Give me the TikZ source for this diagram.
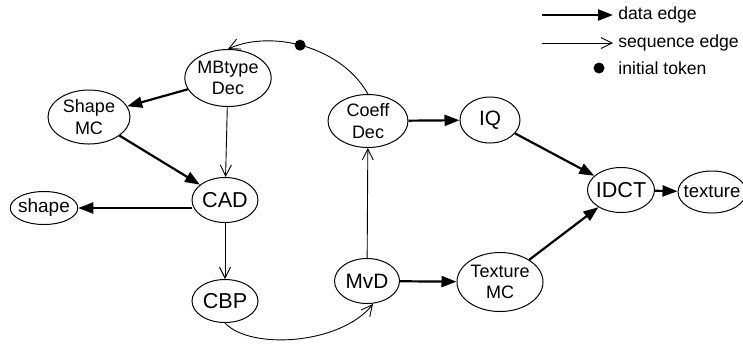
\documentclass[tikz,border=0pt]{standalone}
\usepackage{fontspec}
\setmainfont{Liberation Sans}
\usetikzlibrary{arrows.meta, positioning, shapes.geometric}

\begin{document}
\begin{tikzpicture}[x=0.5pt, y=-0.5pt,
        actor/.style={draw, ellipse, line width=0.5pt, inner sep=0pt, align=center, font=\fontsize{9}{10.8}\selectfont},
        bigactor/.style={actor, inner xsep=-1.5pt, font=\fontsize{10.8}{12}\selectfont},
        dataedge/.style={-{Triangle[length=7.5pt,width=5.5pt]}, line width=1.1pt},
        seqedge/.style={-{Straight Barb[length=5.5pt,width=5.5pt]}, line width=0.45pt},
        legendtext/.style={anchor=west, inner sep=2.5pt, font=\fontsize{8.8}{10}\selectfont},
        token/.style={circle, fill, inner sep=0pt, minimum size=5.5pt}]
        \useasboundingbox (0,0) rectangle (743,345);

        % Actors of the decoder
        \node[actor, minimum width=43pt, minimum height=28.5pt] (mbdec) at (228,78) {MBtype\\Dec};
        \node[actor, minimum width=41pt, minimum height=27pt] (shapemc) at (89,117) {Shape\\MC};
        \node[actor, minimum width=40pt, minimum height=26.5pt] (coeffdec) at (368,121) {Coeff\\Dec};
        \node[bigactor, font=\fontsize{10.4}{12}\selectfont, minimum width=30pt, minimum height=23pt] (iq) at (490,120) {IQ};
        \node[bigactor, minimum width=33pt, minimum height=22.5pt] (cad) at (225,200) {CAD};
        \node[actor, inner xsep=-1pt, font=\fontsize{9.5}{10}\selectfont, minimum width=32.5pt, minimum height=16.5pt] (shapeout) at (44,208) {shape};
        \node[bigactor, minimum width=33pt, minimum height=21.5pt] (cbp) at (225,301) {CBP};
        \node[bigactor, font=\fontsize{10.4}{12}\selectfont, minimum width=32.5pt, minimum height=22.5pt] (mvd) at (367,281) {MvD};
        \node[actor, minimum width=43pt, minimum height=29.5pt] (texmc) at (500,282) {Texture\\MC};
        \node[bigactor, minimum width=33.5pt, minimum height=22.5pt] (idct) at (621,190) {IDCT};
        \node[actor, inner xsep=-3pt, font=\fontsize{9.3}{10}\selectfont, minimum width=34pt, minimum height=21pt] (texout) at (712,192) {texture};

        % Data edges
        \draw[dataedge] (mbdec) -- (shapemc);
        \draw[dataedge] (shapemc) -- (cad);
        \draw[dataedge] (cad.west |- shapeout) -- (shapeout);
        \draw[dataedge] (coeffdec) -- (iq);
        \draw[dataedge] (iq) -- (idct);
        \draw[dataedge] (mvd) -- (texmc);
        \draw[dataedge] (texmc) -- (idct);
        \draw[dataedge] (idct) -- (texout);

        % Sequence edges
        \draw[seqedge] (mbdec) -- (cad);
        \draw[seqedge] (cad) -- (cbp);
        \draw[seqedge] (cbp.south) .. controls (250,350) and (340,345) .. ([xshift=3pt]mvd.south);
        \draw[seqedge] (mvd) -- (coeffdec);
        \draw[seqedge] (coeffdec.north) .. controls (340,45) and (270,30) .. node[token, pos=0.52] (tok) {} (mbdec.north);

        % Legend
        \node[legendtext] (datalbl) at (613,15) {data edge};
        \node[legendtext] (seqlbl) at (613,43) {sequence edge};
        \node[legendtext] (toklbl) at (613,68) {initial token};
        \coordinate (datastart) at (542,15);
        \coordinate (seqstart) at (542,43);
        \draw[dataedge] (datastart) -- (datalbl);
        \draw[seqedge] (seqstart) -- (seqlbl);
        \node[token] (legtok) at (599,68) {};
\end{tikzpicture}
\end{document}
